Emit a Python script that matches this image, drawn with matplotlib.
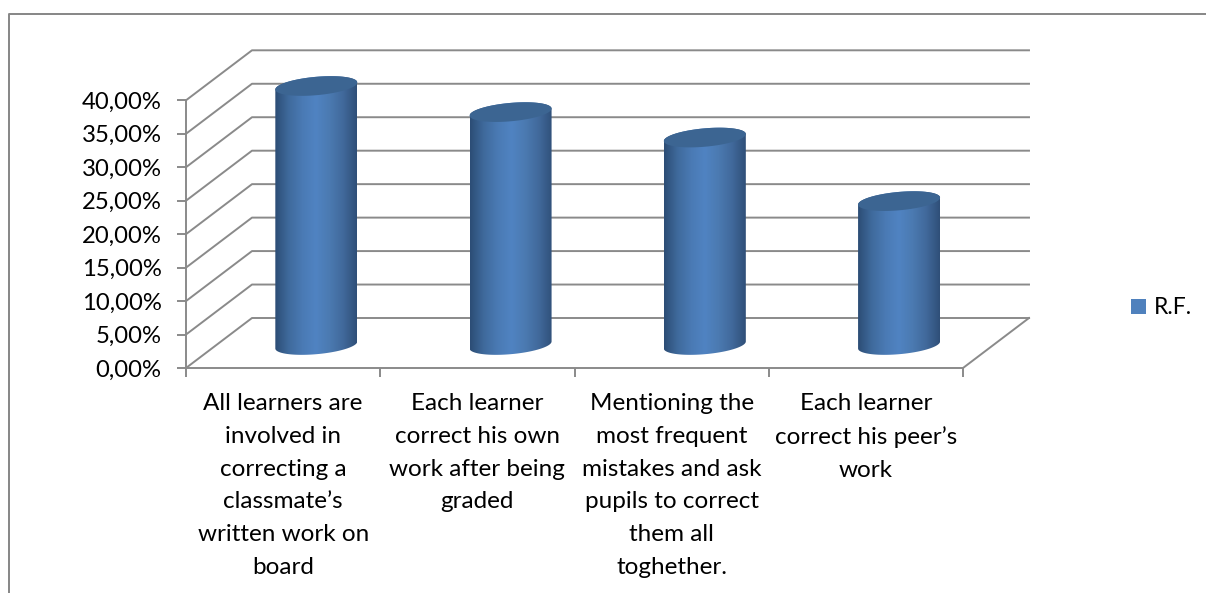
# plot.py
# 3D-look cylinder column chart of correction techniques
import numpy as np
import matplotlib
matplotlib.use("Agg")
import matplotlib.pyplot as plt
from matplotlib.colors import LinearSegmentedColormap
from matplotlib.lines import Line2D
from matplotlib.patches import Patch, Polygon

plt.rcParams['font.family'] = ['Lato', 'DejaVu Sans']

# Data
categories = [
    "All learners are\ninvolved in\ncorrecting a\nclassmate\u2019s\nwritten work on\nboard",
    "Each learner\ncorrect his own\nwork after being\ngraded",
    "Mentioning the\nmost frequent\nmistakes and ask\npupils to correct\nthem all\ntoghether.",
    "Each learner\ncorrect his peer\u2019s\nwork",
]
values = [38.7, 34.8, 31.0, 21.5]
y_levels = [0, 5, 10, 15, 20, 25, 30, 35, 40]
y_labels = ["0,00%", "5,00%", "10,00%", "15,00%", "20,00%", "25,00%", "30,00%", "35,00%", "40,00%"]
series_name = "R.F."

W, H = 1206, 593
fig = plt.figure(figsize=(W / 100, H / 100), dpi=100)
ax = fig.add_axes([186 / W, (H - 368) / H, 777 / W, 267.7 / H])

grid_col = '#8a8a8a'
px_x = 777 / 4      # pixels per category
px_y = 267.7 / 40   # pixels per percent
depth_x = 66 / px_x
depth_y = 50 / px_y

# Walls and floor
for v in y_levels:
    ax.plot([0, depth_x, 4 + depth_x], [v, v + depth_y, v + depth_y],
            color=grid_col, lw=1.4, zorder=1, clip_on=False)
ax.plot([4, 4 + depth_x], [0, depth_y], color=grid_col, lw=1.4, zorder=1, clip_on=False)

# Cylinders
shade = LinearSegmentedColormap.from_list(
    'cyl', ['#2c4d75', '#3f6a9c', '#4a7ab4', '#5083c2', '#4b7ab1', '#41699b', '#2f4f78'])
grad = np.linspace(0, 1, 256).reshape(1, -1)
a = 41 / px_x
b = 9.2 / px_y
k = 3.5 / px_y
base = 23 / px_y
t = np.linspace(0, 2 * np.pi, 121)

for i, val in enumerate(values):
    xc = i + 0.5 + depth_x / 2 + 0.001
    ex = xc + a * np.cos(t)
    top_y = base + val + k * np.cos(t) + b * np.sin(t)
    bot_y = base + k * np.cos(t) + b * np.sin(t)

    # Outline: lower half of the base, then upper half of the top
    low = (t >= np.pi)
    high = (t <= np.pi)
    outline = np.vstack([
        np.column_stack([ex[low], bot_y[low]]),
        np.column_stack([ex[high], top_y[high]]),
    ])
    body = Polygon(outline, closed=True, fc='none', ec='none', transform=ax.transData)
    ax.add_patch(body)
    im = ax.imshow(grad, cmap=shade, aspect='auto', zorder=3,
                   extent=[xc - a, xc + a, base - 2, base + val + 3])
    im.set_clip_path(body)
    im.set_clip_box(fig.bbox)
    ax.fill(ex, top_y, color='#3c6592', lw=0, zorder=4, clip_on=False)

ax.set_xlim(0, 4)
ax.set_ylim(0, 40)

# Axes
for side in ['top', 'right']:
    ax.spines[side].set_visible(False)
for side in ['left', 'bottom']:
    ax.spines[side].set_color(grid_col)
    ax.spines[side].set_linewidth(1.4)

ax.set_yticks(y_levels)
ax.set_yticklabels(y_labels, fontsize=17.2, color='black')
ax.set_xticks([0, 1, 2, 3, 4])
ax.set_xticklabels([])
ax.set_xticks([0.5, 1.5, 2.5, 3.5], minor=True)
ax.set_xticklabels(categories, minor=True, fontsize=17.5, color='black', linespacing=1.69)
ax.tick_params(axis='both', which='major', length=6.5, width=1.4, color=grid_col)
ax.tick_params(axis='y', pad=11)
ax.tick_params(axis='x', which='minor', length=0, pad=18.2)

# Legend
handle = Patch(fc='#4f81bd', ec='none', label=series_name)
fig.legend(handles=[handle], loc='center left', frameon=False, fontsize=16.5,
           bbox_to_anchor=(1124 / W, (H - 308) / H), handlelength=0.66, handleheight=0.66,
           handletextpad=0.35, borderpad=0.3, borderaxespad=0)

# Chart frame, only the top and left edges are inside the picture
frame_x = [8.5 / W, 8.5 / W, 1]
frame_y = [0, (H - 14) / H, (H - 14) / H]
fig.add_artist(Line2D(frame_x, frame_y, color='#868686', lw=1.4, transform=fig.transFigure))

fig.savefig('out.png', dpi=100)
